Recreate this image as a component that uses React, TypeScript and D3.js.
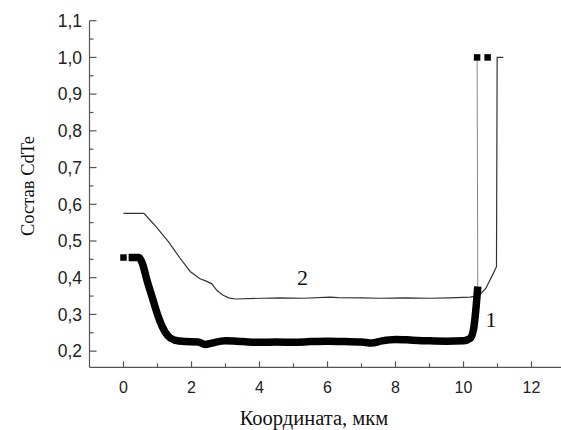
import React from "react";
import * as d3 from "d3";

// Curve 1 (thick, dense markers)
const c1X = [0.15, 0.45, 0.55, 0.7, 0.85, 1.0, 1.15, 1.3, 1.5, 1.8, 2.2, 2.4, 2.6, 3.0, 3.5, 4.0, 4.5, 5.0, 5.5, 6.0, 6.5, 7.0, 7.3, 7.6, 8.0, 8.5, 9.0, 9.5, 10.0, 10.2, 10.3, 10.36, 10.42];
const c1Y = [0.455, 0.455, 0.44, 0.39, 0.345, 0.3, 0.265, 0.242, 0.23, 0.226, 0.225, 0.218, 0.222, 0.228, 0.226, 0.224, 0.225, 0.224, 0.226, 0.227, 0.226, 0.225, 0.222, 0.228, 0.232, 0.23, 0.228, 0.227, 0.228, 0.235, 0.262, 0.31, 0.376];
// Curve 1 sparse points (square markers)
const c1MarkX = [0.0, 10.4, 10.71];
const c1MarkY = [0.455, 1.0, 1.0];

// Curve 2 (thin)
const c2X = [0.0, 0.6, 0.9, 1.32, 1.65, 1.96, 2.25, 2.45, 2.59, 2.75, 2.93, 3.1, 3.28, 4.1, 4.6, 5.3, 6.07, 6.3, 7.0, 7.54, 8.3, 9.0, 9.6, 10.2, 10.45, 10.65, 10.83, 10.97, 10.99, 11.17];
const c2Y = [0.575, 0.575, 0.545, 0.498, 0.455, 0.417, 0.397, 0.39, 0.384, 0.365, 0.352, 0.345, 0.342, 0.344, 0.345, 0.344, 0.347, 0.346, 0.345, 0.344, 0.345, 0.344, 0.345, 0.347, 0.352, 0.37, 0.403, 0.43, 1.0, 1.0];

const xMajor = [0, 2, 4, 6, 8, 10, 12];
const xMinor = [1, 3, 5, 7, 9, 11];
const yMajor = [0.2, 0.3, 0.4, 0.5, 0.6, 0.7, 0.8, 0.9, 1.0, 1.1];
const yMinor = [0.25, 0.35, 0.45, 0.55, 0.65, 0.75, 0.85, 0.95, 1.05];
const yLabels = ["0,2", "0,3", "0,4", "0,5", "0,6", "0,7", "0,8", "0,9", "1,0", "1,1"];

const xTitle = "Координата, мкм";
const yTitle = "Состав CdTe";

const SANS = "'Liberation Sans', Arial, sans-serif";
const SERIF = "'Liberation Serif', 'Times New Roman', serif";

export default function App() {
  const W = 561, H = 430;
  const x = d3.scaleLinear().domain([-1, 13]).range([89.5, 565.5]);
  const y = d3.scaleLinear().domain([0.156, 1.1]).range([367.3, 20.7]);
  const axisColor = "#555";

  const c1 = c1X.map((v, i) => [v, c1Y[i]] as [number, number]);
  const c2 = c2X.map((v, i) => [v, c2Y[i]] as [number, number]);
  const line = d3.line<[number, number]>().x(d => x(d[0])).y(d => y(d[1]));
  const smooth = d3.line<[number, number]>().x(d => x(d[0])).y(d => y(d[1])).curve(d3.curveMonotoneX);

  const lastC1 = c1[c1.length - 1];
  const jump: [number, number][] = [lastC1, [c1MarkX[1], c1MarkY[1]]];

  const x0 = x(-1), yb = y(0.156);
  const sq = 6.5;

  return (
    <div style={{ position: "absolute", left: 0, top: 0 }}>
      <svg width={W} height={H} style={{ display: "block", background: "#fff" }}>
        {/* axes */}
        <line x1={x0} x2={W} y1={yb} y2={yb} stroke={axisColor} strokeWidth={1.2} />
        <line x1={x0} x2={x0} y1={y(1.1)} y2={yb} stroke={axisColor} strokeWidth={1.2} />
        {xMajor.map(v => (
          <g key={"xm" + v}>
            <line x1={x(v)} x2={x(v)} y1={yb} y2={yb - 6} stroke={axisColor} strokeWidth={1.2} />
            <text x={x(v)} y={393} textAnchor="middle" fontFamily={SANS} fontSize={16} fill="#222">{v}</text>
          </g>
        ))}
        {xMinor.map(v => (
          <line key={"xn" + v} x1={x(v)} x2={x(v)} y1={yb} y2={yb - 4} stroke={axisColor} strokeWidth={1.2} />
        ))}
        {yMajor.map((v, i) => (
          <g key={"ym" + v}>
            <line x1={x0} x2={x0 + 7} y1={y(v)} y2={y(v)} stroke={axisColor} strokeWidth={1.2} />
            <text x={82} y={y(v)} dy="0.36em" textAnchor="end" fontFamily={SANS} fontSize={17.5} fill="#222">{yLabels[i]}</text>
          </g>
        ))}
        {yMinor.map(v => (
          <line key={"yn" + v} x1={x0} x2={x0 + 4} y1={y(v)} y2={y(v)} stroke={axisColor} strokeWidth={1.2} />
        ))}

        {/* titles */}
        <text x={314} y={425} textAnchor="middle" fontFamily={SERIF} fontSize={20.5} fill="#111">{xTitle}</text>
        <text transform="translate(34,186) rotate(-90)" textAnchor="middle" fontFamily={SERIF} fontSize={18.5} fill="#111">{yTitle}</text>

        {/* curve 2 */}
        <path d={line(c2) || ""} fill="none" stroke="#333" strokeWidth={1.2} />

        {/* curve 1 */}
        <path d={line(jump) || ""} fill="none" stroke="#888" strokeWidth={1} />
        <path d={smooth(c1) || ""} fill="none" stroke="#000" strokeWidth={7.5} strokeLinejoin="round" />
        {c1MarkX.map((v, i) => (
          <rect key={"mk" + i} x={x(v) - sq / 2} y={y(c1MarkY[i]) - sq / 2} width={sq} height={sq} fill="#000" />
        ))}

        {/* curve labels */}
        <text x={302.5} y={285} textAnchor="middle" fontFamily={SERIF} fontSize={22} fill="#111">2</text>
        <text x={491} y={327} textAnchor="middle" fontFamily={SERIF} fontSize={22} fill="#111">1</text>
      </svg>
    </div>
  );
}
